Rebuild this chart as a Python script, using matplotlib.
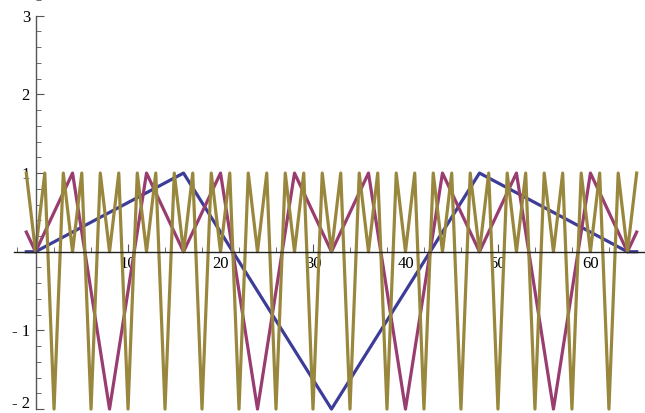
import matplotlib
matplotlib.use("Agg")
import matplotlib.pyplot as plt
import matplotlib.transforms as mtransforms
from matplotlib.ticker import MultipleLocator

# vertices of the three sawtooth-like sequences (x positions and values)
blue_x = [-1, 0, 16, 32, 48, 64, 65]
blue_y = [0, 0, 1, -2, 1, 0, 0]

purple_x = [-1, 0, 4, 8, 12, 16, 20, 24, 28, 32, 36, 40, 44, 48, 52, 56, 60, 64, 65]
purple_y = [0.25, 0, 1, -2, 1, 0, 1, -2, 1, 0, 1, -2, 1, 0, 1, -2, 1, 0, 0.25]

olive_x = list(range(-1, 66))
olive_y = [1,
           0, 1, -2, 1, 0, 1, -2, 1, 0, 1, -2, 1, 0, 1, -2, 1,
           0, 1, -2, 1, 0, 1, -2, 1, 0, 1, -2, 1, 0, 1, -2, 1,
           0, 1, -2, 1, 0, 1, -2, 1, 0, 1, -2, 1, 0, 1, -2, 1,
           0, 1, -2, 1, 0, 1, -2, 1, 0, 1, -2, 1, 0, 1, -2, 1,
           0, 1]

x_ticks = [10, 20, 30, 40, 50, 60]
y_ticks = [-2, -1, 1, 2, 3]
y_tick_labels = ["- 2", "- 1", "1", "2", "3"]

plt.rcParams["font.family"] = ["Liberation Serif", "DejaVu Serif"]

W, H = 645, 413
fig = plt.figure(figsize=(W / 100, H / 100), dpi=100)
ax = fig.add_axes([14 / W, 0, 1 - 14 / W, 1])

lw = 2.3
ax.plot(blue_x, blue_y, color="#3d3d99", lw=lw)
ax.plot(purple_x, purple_y, color="#993d70", lw=lw)
ax.plot(olive_x, olive_y, color="#99873d", lw=lw)

ax.set_xlim(-2.33, 65.9)
ax.set_ylim(-2.05, 3.2)

for side in ("top", "right"):
    ax.spines[side].set_visible(False)
ax.spines["left"].set_position(("data", 0))
ax.spines["bottom"].set_position(("data", 0))
ax.spines["left"].set_bounds(-2, 3)
ax.spines["left"].set_color("#555555")
ax.spines["bottom"].set_color("#222222")
ax.spines["left"].set_linewidth(1.0)
ax.spines["bottom"].set_linewidth(1.0)

ax.set_xticks(x_ticks)
ax.set_xticklabels([str(t) for t in x_ticks])
ax.xaxis.set_minor_locator(MultipleLocator(2))
ax.set_yticks(y_ticks)
ax.set_yticklabels(y_tick_labels)
ax.yaxis.set_minor_locator(MultipleLocator(0.2))

ax.tick_params(axis="x", which="major", direction="in", length=6, width=0.8,
               color="#555555", labelsize=12, pad=3)
ax.tick_params(axis="x", which="minor", direction="in", length=3.5, width=0.6,
               color="#555555")
ax.tick_params(axis="y", which="major", direction="in", length=6, width=0.8,
               color="#555555", labelsize=12, pad=4)
ax.tick_params(axis="y", which="minor", direction="in", length=3.5, width=0.6,
               color="#555555")

# keep the bottom label inside the canvas
bottom_label = ax.get_yticklabels()[0]
bottom_label.set_transform(bottom_label.get_transform()
                           + mtransforms.ScaledTranslation(0, 7 / 100, fig.dpi_scale_trans))

fig.savefig("out.png", dpi=100)
